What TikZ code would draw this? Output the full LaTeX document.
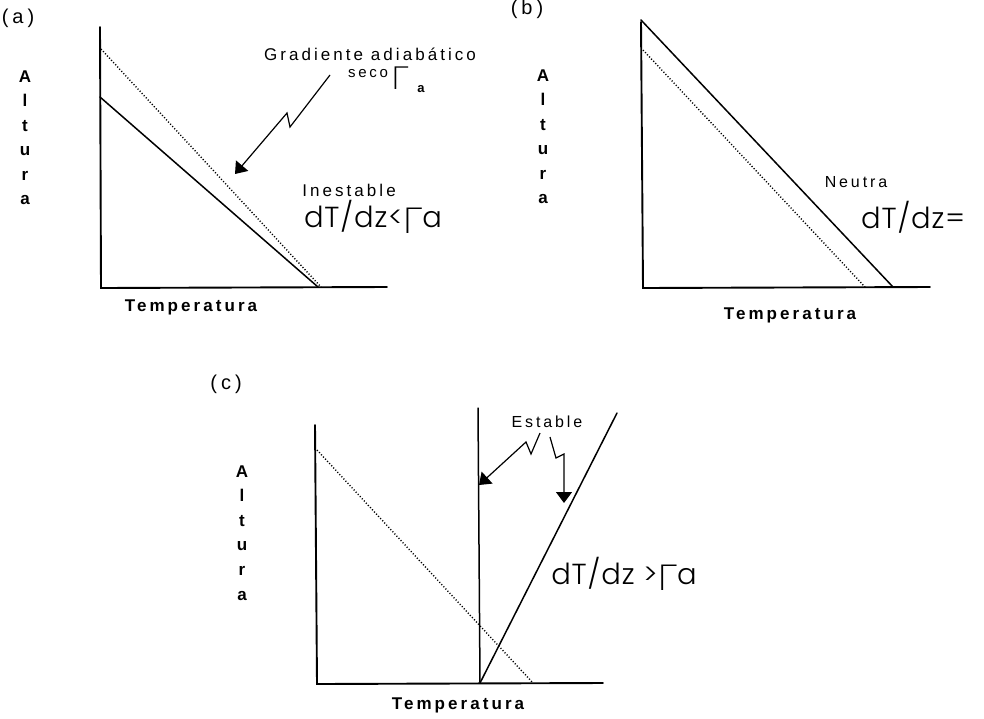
\documentclass[tikz,border=0pt]{standalone}
\usepackage{fontspec}
\setmainfont{Liberation Sans}
\usetikzlibrary{arrows.meta}
\IfFontExistsTF{Poppins Light}{\newfontfamily\thinfont{Poppins Light}[LetterSpace=3]}{%
  \IfFontExistsTF{Lato Light}{\newfontfamily\thinfont{Lato Light}[LetterSpace=3]}{\newfontfamily\thinfont{Liberation Sans}[LetterSpace=3]}}
\IfFontExistsTF{Lato Light}{\newfontfamily\gamfont{Lato Light}}{\newfontfamily\gamfont{DejaVu Sans}}
\newfontfamily\lblfont{Liberation Sans}[LetterSpace=18]
\newfontfamily\panfont{Liberation Sans}[LetterSpace=20]
\newcommand{\gam}{{\gamfont\fontsize{36}{36}\selectfont\raisebox{-6pt}{Γ}}}
\begin{document}
\begin{tikzpicture}[x=1pt,y=-1pt,
  axis/.style={line width=1.9pt,line cap=round,line join=miter},
  curve/.style={line width=1.5pt,line cap=round},
  adiab/.style={line width=1.4pt,dash pattern=on 1.1pt off 1.9pt},
  bolt/.style={line width=1.2pt,line join=miter,-{Triangle[length=11pt,width=16pt]}},
  txt/.style={inner sep=0pt,font=\lblfont\fontsize{17}{20}\selectfont},
  small/.style={inner sep=0pt,font=\lblfont\fontsize{16}{19}\selectfont},
  pan/.style={inner sep=0pt,font=\panfont\fontsize{20}{22}\selectfont},
  alt/.style={inner sep=0pt,anchor=base,font=\bfseries\fontsize{17}{19}\selectfont},
  temp/.style={inner sep=0pt,font=\lblfont\bfseries\fontsize{17}{20}\selectfont},
  formula/.style={inner sep=0pt,font=\thinfont\fontsize{29}{32}\selectfont}]
\useasboundingbox (0,0) rectangle (984,718);

% ---------- panel (a)
\coordinate (aT) at (100,27);
\coordinate (aO) at (101,288);
\coordinate (aX) at (387,287);
\coordinate (aS1) at (100,97);
\coordinate (aS2) at (318,287);
\coordinate (aD1) at (101,49);
\coordinate (aD2) at (321,287);
\draw[axis] (aT) -- (aO) -- (aX);
\draw[curve] (aS1) -- (aS2);
\draw[adiab] (aD1) -- (aD2);
\node[pan] (alab) at (18,18) {(a)};
\foreach \l/\i in {A/0,l/1,t/2,u/3,r/4,a/5}{
  \node[alt] (aalt\i) at (25,{82+24.5*\i}) {\l};}
\node[temp] (atemp) at (191,307) {Temperatura};
\node[txt,anchor=base] (grad) at (370,60) {Gradiente adiabático};
\node[inner sep=0pt,anchor=base,font=\lblfont\fontsize{15}{15}\selectfont] (seco) at (368,77) {seco};
\node[inner sep=0pt,anchor=base,font=\gamfont\fontsize{32}{32}\selectfont] (gamA) at (400,89) {Γ};
\node[inner sep=0pt,anchor=base,font=\bfseries\fontsize{13}{13}\selectfont] (subA) at (421,92) {a};
\coordinate (bA0) at (330,75);
\coordinate (bA1) at (290,127);
\coordinate (bA2) at (287,113);
\coordinate (bA3) at (235,174);
\draw[bolt] (bA0) -- (bA1) -- (bA2) -- (bA3);
\node[txt] (inest) at (349,190) {Inestable};
\node[formula,anchor=base] (fa) at (373,227) {dT/dz<\gam a};

% ---------- panel (b)
\coordinate (bT) at (641,22);
\coordinate (bO) at (643,288);
\coordinate (bX) at (930,287);
\coordinate (bS1) at (641,20);
\coordinate (bS2) at (893,287);
\coordinate (bD1) at (643,50);
\coordinate (bD2) at (865,287);
\draw[axis] (bT) -- (bO) -- (bX);
\draw[curve] (bS1) -- (bS2);
\draw[adiab] (bD1) -- (bD2);
\node[pan] (blab) at (527,9) {(b)};
\foreach \l/\i in {A/0,l/1,t/2,u/3,r/4,a/5}{
  \node[alt] (balt\i) at (543,{81+24.5*\i}) {\l};}
\node[temp] (btemp) at (790,315) {Temperatura};
\node[small] (neutra) at (856,182) {Neutra};
\node[formula,anchor=base] (fb) at (913,228) {dT/dz=};

% ---------- panel (c)
\coordinate (cT) at (315,425);
\coordinate (cO) at (317,684);
\coordinate (cX) at (603,683);
\coordinate (cV1) at (478,408);
\coordinate (cV2) at (480,683);
\coordinate (cS2) at (617,413);
\coordinate (cD1) at (317,450);
\coordinate (cD2) at (533,683);
\draw[axis] (cT) -- (cO) -- (cX);
\draw[curve] (cV1) -- (cV2);
\draw[curve] (cV2) -- (cS2);
\draw[adiab] (cD1) -- (cD2);
\node[pan] (clab) at (226,384) {(c)};
\foreach \l/\i in {A/0,l/1,t/2,u/3,r/4,a/5}{
  \node[alt] (calt\i) at (242,{477+24.6*\i}) {\l};}
\node[temp] (ctemp) at (458,705) {Temperatura};
\node[small] (estab) at (547,422) {Estable};
\coordinate (cL0) at (540,433);
\coordinate (cL1) at (531,454);
\coordinate (cL2) at (526,442);
\coordinate (cL3) at (479,485);
\draw[bolt] (cL0) -- (cL1) -- (cL2) -- (cL3);
\coordinate (cR0) at (550,437);
\coordinate (cR1) at (556,458);
\coordinate (cR2) at (564,454);
\coordinate (cR3) at (564,503);
\draw[bolt] (cR0) -- (cR1) -- (cR2) -- (cR3);
\node[formula,anchor=base] (fc) at (624,584) {dT/dz >\gam a};
\end{tikzpicture}
\end{document}
